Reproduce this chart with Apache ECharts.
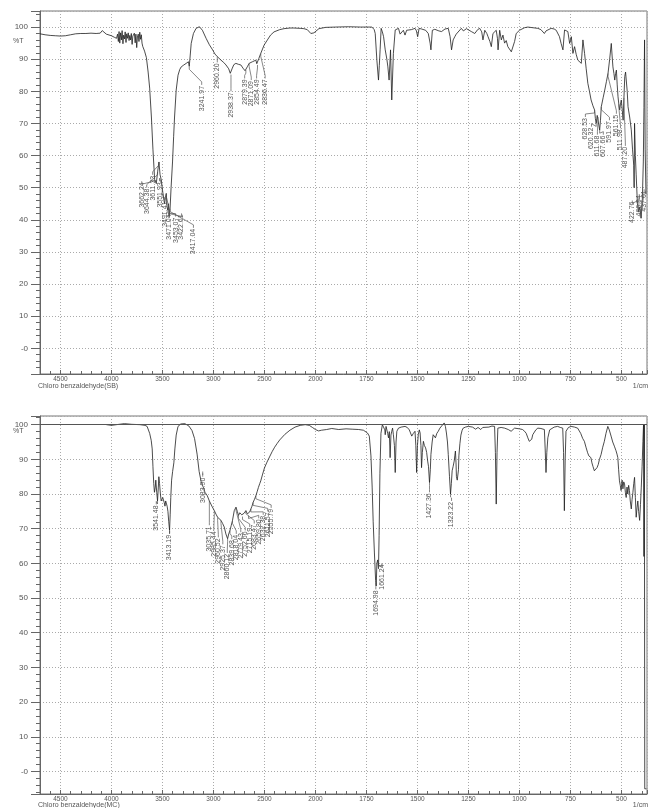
<!DOCTYPE html>
<html><head><meta charset="utf-8">
<script src="https://cdn.jsdelivr.net/npm/echarts@6/dist/echarts.min.js"></script>
<style>html,body{margin:0;padding:0;background:#fff}#c{width:650px;height:808px}</style>
</head><body><div id="c"></div>
<script>
// Tick labels of the wavenumber axis (1/cm); 500 per division above 2000, 250 below
const xTickLabels = [4500,4000,3500,3000,2500,2000,1750,1500,1250,1000,750,500];
const topTitle = 'Chloro benzaldehyde(SB)';
const bottomTitle = 'Chloro benzaldehyde(MC)';

// [wavenumber, %T]
const topSpectrum = [
[4700,97.9],[4650,97.6],[4600,97.4],[4550,97.3],[4500,97.2],[4450,97.3],[4400,97.6],[4350,97.9],[4300,98.0],[4250,98.0],[4200,98.1],[4150,98.0],[4110,98.1],[4090,98.9],[4075,98.4],[4050,97.8],[4000,97.3],[3970,96.8],[3950,96.5],
[3940,97.8],[3932,95.5],[3925,98.6],[3918,95.0],[3910,98.2],[3902,96.0],[3895,98.9],[3887,94.8],[3880,97.5],[3872,96.3],[3865,98.5],[3857,95.2],[3850,97.9],[3842,96.5],[3835,98.2],[3827,95.8],[3820,97.4],[3812,96.0],[3805,98.0],[3797,94.6],[3790,97.2],[3782,96.8],[3775,98.1],[3767,95.1],[3760,97.8],[3752,93.6],[3745,96.9],[3737,97.8],[3730,95.5],[3722,98.4],[3715,96.2],[3707,97.6],[3700,95.0],[3693,94.0],
[3675,92.5],[3657,90.5],[3640,86],[3625,81],[3608,72],[3593,62],[3576,52.5],[3560,51.3],[3547,55],[3534,58],[3523,54],[3511,52.4],[3495,48.2],[3485,46],[3479,45],[3470,47],[3462,48.2],[3455,44],[3447,43],[3440,45],[3435,41],[3425,43.5],[3415,50],[3401,58],[3390,66],[3381,72],[3365,80.4],[3347,85],[3330,86.8],[3316,87.6],[3290,88.2],[3267,88.7],[3245,89.2],[3237,87.8],[3228,91],[3218,94.9],[3196,98],[3170,99.6],[3137,100.1],[3108,99],[3072,96.5],[3040,94.5],[3008,92.9],[2985,91.6],[2962,90.8],[2945,90.3],[2926,89.7],[2900,89],[2877,88.2],[2850,87],[2835,85.6],[2828,85.2],[2815,87.2],[2800,88.3],[2780,88.7],[2755,88.4],[2731,88.2],[2710,87.2],[2690,86.4],[2682,86.6],[2665,87.8],[2650,88.7],[2618,89.2],[2584,89.7],[2575,88.6],[2568,88.2],[2555,90.2],[2536,91.8],[2503,94.4],[2471,96],[2440,97.5],[2406,98.5],[2350,99.2],[2308,99.5],[2250,99.7],[2211,99.7],[2150,99.6],[2113,99.5],[2080,99.2],[2065,98.8],[2045,98],[2036,97.8],[2015,98.2],[2000,98.8],[1983,99.5],[1950,99.9],[1900,100],[1837,100.1],[1780,100],[1723,100],
[1712,99.2],[1707,98],[1699,89.7],[1691,83.5],[1687,88],[1683,92.9],[1678,99.6],[1672,98.5],[1666,97],[1658,92.9],[1650,90],[1645,87.6],[1639,83.5],[1632,92.9],[1626,77.3],[1618,91.8],[1609,99.1],[1601,98.5],[1593,99.6],[1585,97.8],[1577,98],[1569,99],[1561,97.5],[1553,99],[1545,98.6],[1530,99.2],[1512,99.6],[1505,98.8],[1499,97],[1492,99.6],[1480,99.4],[1471,99.6],[1460,99],[1447,98],[1438,95],[1434,92.9],[1427,99],[1415,99.3],[1406,99.6],[1395,98.8],[1382,98.6],[1365,99.4],[1349,99.6],[1340,97],[1333,92.9],[1325,96],[1317,97],[1310,97.8],[1301,98],[1285,99.6],[1275,98.8],[1268,98.6],[1260,99.5],[1252,100],[1236,98.6],[1219,98],[1205,99.2],[1195,99.6],[1185,98.5],[1179,96],[1170,99],[1160,98],[1154,97],[1145,95.5],[1138,93.9],[1130,98],[1114,99],[1108,96.5],[1105,92.9],[1097,99],[1089,96],[1081,97.5],[1073,95],[1065,95.8],[1057,93.9],[1048,93.5],[1040,92.3],[1032,92.9],[1024,95.5],[1016,98],[1000,99],[992,99.6],[975,99.8],[959,100],[935,99.8],[910,99.6],[895,99.2],[878,98],[870,98.8],[861,99],[845,99.6],[830,99.4],[820,99],[812,98.4],[804,97],[796,94.9],[787,92.9],[779,99.1],[771,99.6],[763,98.6],[754,94.9],[746,97],[738,91.8],[730,93.9],[722,91.5],[714,89.7],[705,89.2],[697,88.7],[689,96],[681,91.8],[673,87],[665,82.5],[657,80],[649,77.3],[640,75.5],[632,74.2],[628,71.5],[624,70],[619,72.5],[615,72],[611,69.5],[607,67.9],[603,71],[599,75.2],[590,78],[582,80.4],[574,83],[566,85.6],[558,90],[550,94.9],[546,91],[542,87.6],[537,85.5],[533,83.5],[529,85.5],[525,86.6],[521,82],[517,78.3],[513,76],[509,74.2],[505,76],[501,77.3],[496,74],[492,71],[488,78],[484,84.6],[480,86],[476,85.6],[472,80],[468,75.2],[460,72],[452,68],[446,62],[440,57],[438,50],[436,70],[432,60],[428,54],[422,45],[416,42.5],[410,44],[404,40.5],[398,46],[393,58],[390,75],[387,96],[384,62],[380,48]
];

const bottomSpectrum = [
[4050,100],[4000,99.8],[3950,100],[3873,100.3],[3800,100.1],[3720,100],[3670,99.8],[3650,99.5],[3625,97.5],[3610,95.5],[3600,93],[3593,88],[3585,83],[3578,80.5],[3570,82],[3565,84],[3556,80.5],[3548,78],[3540,82],[3535,85],[3528,83],[3520,80],[3512,78],[3505,77.5],[3497,79],[3490,79.5],[3482,77.5],[3475,76.5],[3468,78],[3462,78.2],[3454,76.5],[3446,75],[3438,72],[3430,69.5],[3424,74],[3418,79],[3410,84],[3400,86.5],[3388,89],[3378,93],[3365,97],[3347,99.5],[3320,100.2],[3280,100.3],[3240,99.6],[3210,98.3],[3185,96],[3160,91.5],[3140,86.5],[3120,83.5],[3100,82],[3083,80.5],[3060,79.5],[3040,78],[3015,76.5],[2991,75.2],[2975,74.2],[2959,73.3],[2940,72.8],[2926,72.4],[2910,71.5],[2894,70.5],[2878,68.5],[2861,67.1],[2850,68.5],[2838,69.5],[2825,71],[2813,72.4],[2796,75.2],[2779,76.2],[2766,75],[2754,73.8],[2742,74.6],[2731,74.8],[2722,74],[2715,73.5],[2698,74.5],[2682,75.2],[2668,74.3],[2656,73.8],[2645,74.8],[2633,75.7],[2622,76.5],[2611,77.6],[2597,78.5],[2584,79.5],[2570,80.8],[2559,81.9],[2546,83],[2536,83.8],[2520,85.5],[2500,87.5],[2475,89.2],[2450,90.7],[2425,92.2],[2400,93.5],[2375,94.6],[2350,95.6],[2300,97.2],[2250,98.4],[2200,99.3],[2150,99.8],[2100,100],[2060,99.8],[2030,99.2],[2000,98.6],[1985,98.2],[1970,98.4],[1945,98.6],[1920,98.9],[1886,98.6],[1850,98.8],[1820,98.7],[1788,98.6],[1765,98.4],[1756,98.1],[1745,97.6],[1736,96.7],[1728,91],[1722,82],[1717,72],[1711,63],[1705,55],[1702,53.5],[1699,60],[1695,61],[1691,58.5],[1688,68],[1684,86],[1679,97.5],[1672,100],[1666,100.2],[1660,98.5],[1658,97.1],[1654,99.5],[1650,99],[1646,97.5],[1642,96.2],[1638,98],[1634,90.5],[1630,97],[1626,98.1],[1622,99],[1618,97.1],[1613,94],[1609,86.2],[1605,95],[1601,98.1],[1593,99],[1580,99.3],[1561,99.5],[1550,99.2],[1540,98.5],[1536,98.1],[1528,96.7],[1520,97.5],[1512,98.1],[1508,94],[1504,86.2],[1500,94],[1496,97.1],[1491,98.5],[1487,97.6],[1483,94],[1480,87.6],[1476,92],[1471,95.2],[1466,94],[1460,93.3],[1455,92],[1450,89.5],[1446,88],[1441,83.3],[1437,87],[1434,91.4],[1428,95],[1423,97.1],[1418,97.5],[1412,96.2],[1405,97.5],[1398,98.1],[1390,99],[1382,99.5],[1369,100.5],[1363,99.5],[1358,97.6],[1353,95],[1349,91.4],[1343,85],[1338,80],[1334,83],[1330,86.7],[1325,88],[1320,89.5],[1317,91],[1314,92.4],[1311,89],[1309,85],[1305,84],[1301,83.8],[1299,87],[1297,91],[1292,94.5],[1287,97],[1281,98.4],[1276,99],[1265,99.3],[1251,99.5],[1230,99.3],[1215,98.7],[1203,99.2],[1190,98.6],[1180,99.2],[1171,99],[1150,99.3],[1135,99.6],[1122,99.5],[1118,92],[1114,77.1],[1110,92],[1106,99],[1090,99.2],[1073,99],[1055,98.6],[1041,98.1],[1032,98.6],[1024,99],[1000,98.8],[985,98.6],[975,98.1],[967,97.5],[959,96.2],[952,95.2],[946,94.8],[940,95.8],[935,97.1],[920,98.5],[910,99],[895,98.9],[878,98.6],[874,93],[870,86.2],[866,92],[861,96.2],[852,98.5],[845,99],[830,99.3],[813,99.5],[800,99.2],[788,99],[784,92],[780,75.2],[776,90],[772,98.1],[760,99.2],[747,99.5],[730,99.3],[715,99],[700,97.5],[690,96],[682,95.2],[674,93.5],[666,91.9],[660,91],[655,91.5],[650,90.5],[645,89],[640,88],[633,86.7],[626,87.2],[620,87.6],[614,88.5],[608,90],[600,91.4],[592,93.5],[584,95.2],[576,97.5],[567,99.5],[560,98.5],[551,96.7],[543,95],[535,93.8],[527,92.5],[522,91.5],[518,90.5],[514,87],[510,83.8],[506,82.5],[502,81],[497,84],[493,81.5],[489,83.5],[485,82.9],[481,80.5],[477,79],[473,82],[469,80],[465,82.5],[461,81],[457,78],[452,75.7],[448,78.5],[444,80.5],[440,83],[436,84.8],[432,79],[428,73.3],[424,76],[420,78],[416,75],[411,72.4],[407,77],[403,82],[399,88],[395,95.2],[392,100],[390,62],[388,100],[386,-5],[378,-5]
];

// peak annotations: [text, peak wavenumber, peak %T, label wavenumber, label top %T]
const topPeakLabels = [
["3662.24",3560,51.3,3703,52],["3644.38",3547,55,3654,50],["3611.33",3534,58,3596,54],["3551.93",3511,52.4,3528,52],
["3491.41",3495,48.2,3479,46],["3471.04",3462,48.2,3430,42],["3453.07",3447,43,3371,41],["3422.61",3435,41,3313,42],["3417.04",3425,43.5,3196,37.5],
["3241.97",3237,87.8,3115,82],["2960.20",2962,90.8,2962,89],["2938.37",2828,85.2,2828,80],["2879.39",2682,86.6,2694,84],
["2871.09",2650,88.7,2629,83.5],["2854.49",2568,88.2,2577,84],["2836.47",2536,91.8,2493,84],
["628.53",632,74.2,677,72],["620.32",624,70,647,69],["611.68",615,72,618,66.5],["607.66",607,67.9,589,66.5],["591.97",599,75.2,559,71],
["561.15",566,85.6,525,73],["511.98",513,76,505,68.5],["487.20",488,78,481,63],["422.76",422,45,447,46],["466.94",416,42.5,413,48],["437.01",404,40.5,389,49.5]
];
const bottomPeakLabels = [
["3541.48",3548,78,3560,77],["3413.19",3430,69.5,3430,68.5],["3083.90",3105,86.5,3105,85],
["3035.71",3040,78,3040,71],["2985.44",2991,75.2,2996,69.5],["2960.52",2959,73.3,2952,67.5],["2925.37",2926,72.4,2908,65.5],["2860.12",2861,67.1,2864,63],
["2839.68",2838,69.5,2820,67],["2818.04",2813,72.4,2776,68.5],["2779.43",2779,76.2,2732,69],["2752.66",2754,73.8,2688,69.5],["2715.19",2715,73.5,2644,70.5],
["2683.47",2682,75.2,2600,71.5],["2659.80",2656,73.8,2556,73],["2632.38",2633,75.7,2512,74],["2611.57",2611,77.6,2468,75],["2555.79",2584,79.5,2434,76],
["1694.98",1704,54.3,1704,52.5],["1661.24",1691,58.5,1675,60],["1427.36",1441,83.3,1441,80.5],["1323.22",1338,80,1333,78]
];

function toU(w){ return w >= 2000 ? (4500 - w) / 500 : 5 + (2000 - w) / 250; }
const FONT = 'Liberation Sans, Arial, sans-serif';
const isInt = v => Math.abs(v - Math.round(v)) < 1e-6;
function xFmt(v){ if(!isInt(v)) return ''; const i = Math.round(v); return (i >= 0 && i < xTickLabels.length) ? String(xTickLabels[i]) : ''; }
function yFmt(v){ if(!isInt(v)) return ''; const r = Math.round(v); if(r % 10 !== 0 || r < 0 || r > 100) return ''; return r === 0 ? '-0' : String(r); }

function xAxisCfg(i){ return {
  type:'value', gridIndex:i, min:-0.4, max:11.5, splitNumber:12,
  axisLine:{show:true, onZero:false, lineStyle:{color:'#666', width:1}},
  axisTick:{show:true, inside:true, length:4, lineStyle:{color:'#666'}},
  minorTick:{show:true, splitNumber:5, length:3, lineStyle:{color:'#666'}},
  axisLabel:{margin:2, fontSize:6.5, color:'#555', fontFamily:FONT, formatter:xFmt},
  splitLine:{show:true, lineStyle:{color:'#aaa', type:[1,2], width:1}},
  minorSplitLine:{show:false}
};}
function yAxisCfg(i, mn, mx){ return {
  type:'value', gridIndex:i, min:mn, max:mx, splitNumber:11,
  axisLine:{show:true, onZero:false, lineStyle:{color:'#666', width:1}},
  axisTick:{show:true, length:9, lineStyle:{color:'#666'}},
  minorTick:{show:true, splitNumber:5, length:4, lineStyle:{color:'#666'}},
  axisLabel:{margin:12, fontSize:8, color:'#555', fontFamily:FONT, formatter:yFmt},
  splitLine:{show:true, lineStyle:{color:'#aaa', type:[1,2], width:1}}
};}

function spectrumSeries(data, i, extra){ return Object.assign({
  type:'line', xAxisIndex:i, yAxisIndex:i, showSymbol:false, symbol:'none', silent:true,
  data:data.map(p => [toU(p[0]), p[1]]), lineStyle:{color:'#1e1e1e', width:0.8}, z:3
}, extra || {});}

function annotSeries(labels, i){ return {
  type:'custom', xAxisIndex:i, yAxisIndex:i, silent:true, z:4,
  data:labels.map(l => [toU(l[1]), l[2], toU(l[3]), l[4]]),
  encode:{x:[0,2], y:[1,3]},
  renderItem:function(params, api){
    const p = api.coord([api.value(0), api.value(1)]);
    const q = api.coord([api.value(2), api.value(3)]);
    const d = q[1] >= p[1] ? 3 : -3;
    return {type:'group', children:[
      {type:'polyline', shape:{points:[p,[p[0],p[1]+d],[q[0],q[1]-d],q]}, style:{stroke:'#555', lineWidth:0.7, fill:null}},
      {type:'text', x:q[0], y:q[1]+1, rotation:Math.PI/2,
       style:{text:labels[params.dataIndex][0], fontSize:7, fontFamily:FONT, fill:'#555', align:'right', verticalAlign:'middle'}}
    ]};
  }
};}

const chart = echarts.init(document.getElementById('c'), null, {renderer:'canvas'});
chart.setOption({
  animation:false, backgroundColor:'#fff',
  grid:[
    {left:40, right:-1, top:11, height:363, show:true, borderColor:'#777', borderWidth:1},
    {left:40, right:-1, top:416, height:378, show:true, borderColor:'#777', borderWidth:1}
  ],
  xAxis:[xAxisCfg(0), xAxisCfg(1)],
  yAxis:[yAxisCfg(0,-8,105), yAxisCfg(1,-6.5,102.5)],
  series:[
    spectrumSeries(topSpectrum, 0),
    spectrumSeries(bottomSpectrum, 1, {markLine:{silent:true, symbol:'none', label:{show:false},
      lineStyle:{color:'#555', type:'solid', width:1}, data:[{yAxis:100}]}}),
    annotSeries(topPeakLabels, 0),
    annotSeries(bottomPeakLabels, 1)
  ],
  graphic:[
    {type:'text', left:13, top:38, style:{text:'%T', fontSize:7, fill:'#555', fontFamily:FONT}},
    {type:'text', left:13, top:428, style:{text:'%T', fontSize:7, fill:'#555', fontFamily:FONT}},
    {type:'text', left:38, top:383, style:{text:topTitle, fontSize:7, fill:'#555', fontFamily:FONT}},
    {type:'text', left:38, top:802, style:{text:bottomTitle, fontSize:7, fill:'#555', fontFamily:FONT}},
    {type:'text', right:2, top:383, style:{text:'1/cm', fontSize:7, fill:'#555', fontFamily:FONT}},
    {type:'text', right:2, top:802, style:{text:'1/cm', fontSize:7, fill:'#555', fontFamily:FONT}}
  ]
});
</script></body></html>
